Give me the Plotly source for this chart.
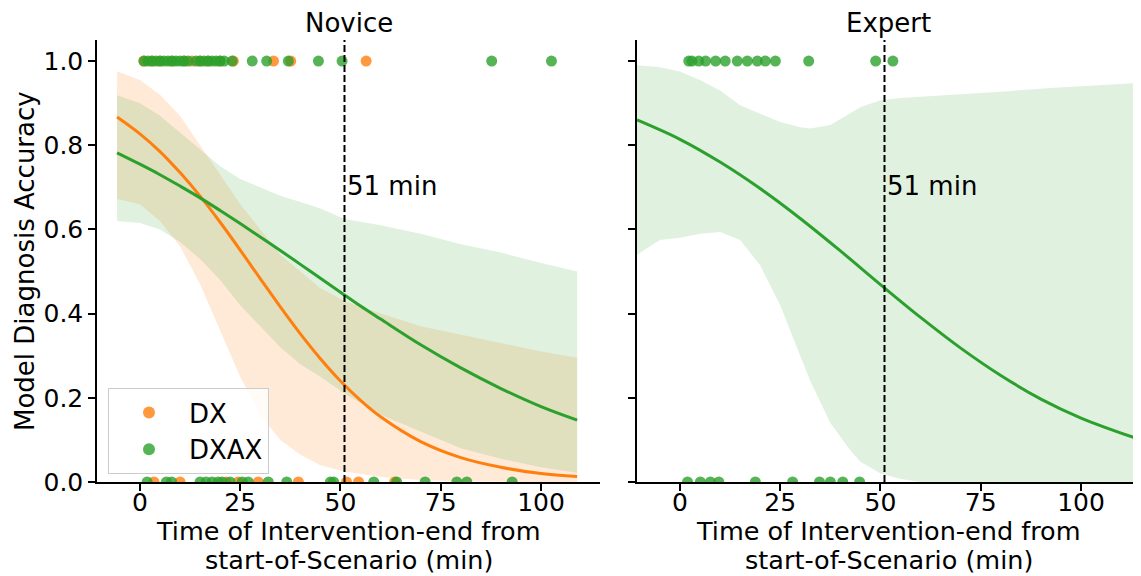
import plotly.graph_objects as go

# ---------------- data ----------------
# Novice scatter (y = 1 / y = 0), minutes
nov_dx_ones = [1, 3, 5, 8, 11, 13, 15, 17, 20, 23.3, 33.3, 37.6, 56.4]
nov_dx_zeros = [3.5, 10, 21.5, 24.5, 29.5, 39.5, 51.5, 54.5, 63.5]
nov_dxax_ones = [1, 2, 3, 4, 5, 6, 7, 8, 9, 10, 11, 12, 14, 15, 16, 17, 18, 19, 20, 21,
                 23, 28, 31.6, 37, 44.5, 50.4, 87.7, 102.6]
nov_dxax_zeros = [1.8, 6.6, 7.9, 15, 16.5, 18, 19.5, 20.5, 22.5, 25.5, 27, 32, 36.6,
                  47.5, 48.3, 58.3, 64, 71.1, 79, 81.5, 92.8]

# Expert scatter
exp_dxax_ones = [2.2, 3.0, 4.7, 6.4, 8.9, 11.3, 14.3, 16.8, 19.3, 21.3, 23.8, 32.1, 48.8, 53.1]
exp_dxax_zeros = [1.9, 5.1, 7.6, 9.7, 18.8, 28.1, 34.8, 37.5, 40.6, 44.8]

# Novice fitted curves
nov_line_x = [-5.7, 0, 5, 10, 15, 20, 25, 30, 35, 40, 45, 50, 55, 60, 70, 80, 90, 100, 109]
nov_dx_fit = [0.867, 0.827, 0.785, 0.735, 0.679, 0.617, 0.551, 0.483, 0.416, 0.352, 0.293,
              0.240, 0.194, 0.155, 0.096, 0.058, 0.035, 0.020, 0.013]
nov_dxax_fit = [0.782, 0.755, 0.730, 0.703, 0.675, 0.645, 0.614, 0.582, 0.550, 0.517, 0.484,
                0.451, 0.418, 0.387, 0.326, 0.271, 0.222, 0.179, 0.147]

# Novice confidence bands
nov_ci_x = [-5.7, 0, 5, 10, 15, 20, 25, 30, 35, 40, 45, 51, 60, 70, 80, 90, 100, 109]
nov_dx_hi = [0.976, 0.955, 0.92, 0.87, 0.80, 0.73, 0.66, 0.60, 0.54, 0.50, 0.46, 0.43, 0.40,
             0.37, 0.35, 0.33, 0.31, 0.295]
nov_dx_lo = [0.672, 0.66, 0.62, 0.56, 0.47, 0.36, 0.25, 0.16, 0.10, 0.065, 0.04, 0.025, 0.012,
             0.005, 0.002, 0.001, 0.0, 0.0]
nov_dxax_hi = [0.919, 0.90, 0.87, 0.83, 0.79, 0.75, 0.72, 0.70, 0.68, 0.665, 0.65, 0.625, 0.61,
               0.59, 0.565, 0.545, 0.52, 0.50]
nov_dxax_lo = [0.62, 0.615, 0.60, 0.57, 0.53, 0.48, 0.42, 0.37, 0.32, 0.28, 0.25, 0.21, 0.16,
               0.12, 0.08, 0.055, 0.035, 0.022]

# Expert fitted curve and band
exp_line_x = [-10.7, 0, 10, 20, 30, 40, 50, 60, 70, 80, 90, 100, 114]
exp_dxax_fit = [0.860, 0.814, 0.760, 0.697, 0.626, 0.549, 0.469, 0.391, 0.318, 0.253, 0.197,
                0.152, 0.103]
exp_ci_x = [-10.7, -5, 0, 5, 10, 15, 20, 25, 30, 32.5, 37.5, 42.5, 45, 50, 55, 60, 67.5, 80,
            92.4, 100, 114]
exp_dxax_hi = [0.99, 0.985, 0.975, 0.955, 0.93, 0.895, 0.875, 0.855, 0.843, 0.84, 0.848, 0.876,
               0.89, 0.907, 0.912, 0.915, 0.919, 0.927, 0.936, 0.94, 0.948]
exp_dxax_lo = [0.54, 0.575, 0.58, 0.59, 0.594, 0.575, 0.515, 0.42, 0.30, 0.24, 0.14, 0.075,
               0.048, 0.02, 0.007, 0.0, 0.0, 0.0, 0.0, 0.0, 0.0]

cutoff_min = 51
x_ticks = [0, 25, 50, 75, 100]
y_ticks = [0.0, 0.2, 0.4, 0.6, 0.8, 1.0]

# ---------------- styling ----------------
ORANGE = "#ff7f0e"
GREEN = "#2ca02c"
ORANGE_FILL = "rgba(255,127,14,0.16)"
GREEN_FILL = "rgba(44,160,44,0.15)"
FONT = "DejaVu Sans"
FS = 26
XL_FS = 25.5
TICK_FS = 25

fig = go.Figure()


def band(xs, lo, hi, color, xa, ya):
    fig.add_trace(go.Scatter(
        x=list(xs) + list(xs)[::-1], y=list(hi) + list(lo)[::-1],
        fill="toself", fillcolor=color, line=dict(width=0), mode="lines",
        hoverinfo="skip", showlegend=False, xaxis=xa, yaxis=ya))


def line(xs, ys, color, xa, ya):
    fig.add_trace(go.Scatter(x=xs, y=ys, mode="lines", line=dict(color=color, width=3, shape="spline"),
                             showlegend=False, xaxis=xa, yaxis=ya))


def pts(xs, yval, color, xa, ya, name=None, legend=False):
    fig.add_trace(go.Scatter(x=xs, y=[yval] * len(xs), mode="markers",
                             marker=dict(color=color, size=11, opacity=0.8, line=dict(width=0)),
                             name=name, showlegend=legend, legendgroup=name, xaxis=xa, yaxis=ya))


# Novice panel
band(nov_ci_x, nov_dx_lo, nov_dx_hi, ORANGE_FILL, "x", "y")
band(nov_ci_x, nov_dxax_lo, nov_dxax_hi, GREEN_FILL, "x", "y")
pts(nov_dx_ones, 1.0, ORANGE, "x", "y", "DX", True)
pts(nov_dx_zeros, 0.0, ORANGE, "x", "y", "DX")
pts(nov_dxax_ones, 1.0, GREEN, "x", "y", "DXAX", True)
pts(nov_dxax_zeros, 0.0, GREEN, "x", "y", "DXAX")
line(nov_line_x, nov_dx_fit, ORANGE, "x", "y")
line(nov_line_x, nov_dxax_fit, GREEN, "x", "y")

# Expert panel
band(exp_ci_x, exp_dxax_lo, exp_dxax_hi, GREEN_FILL, "x2", "y2")
pts(exp_dxax_ones, 1.0, GREEN, "x2", "y2", "DXAX")
pts(exp_dxax_zeros, 0.0, GREEN, "x2", "y2", "DXAX")
line(exp_line_x, exp_dxax_fit, GREEN, "x2", "y2")

# page body has an 8px margin -> shrink the figure and shift margins
OFF = 8
W, H = 1141 - OFF, 576 - OFF
ML, MR, MT, MB = 97 - OFF, 1, 40 - OFF, 94
PW = W - ML - MR
PH = H - MT - MB

axis_common = dict(range=[-10.7, 114.7], tickvals=x_ticks, ticks="outside", ticklen=7, tickwidth=1.5,
                   tickcolor="black", showline=True, linecolor="black", linewidth=1.5,
                   showgrid=False, zeroline=False, ticklabelstandoff=-10,
                   tickfont=dict(family=FONT, size=TICK_FS, color="black"))
yaxis_common = dict(range=[0, 1.05], tickvals=y_ticks, ticks="outside", ticklen=7, tickwidth=1.5,
                    tickcolor="black", showline=True, linecolor="black", linewidth=1.5,
                    showgrid=False, zeroline=False, tickformat=".1f",
                    tickfont=dict(family=FONT, size=TICK_FS, color="black"))

fig.update_layout(
    width=W, height=H,
    margin=dict(l=ML, r=MR, t=MT, b=MB),
    plot_bgcolor="white", paper_bgcolor="white",
    font=dict(family=FONT, size=FS, color="black"),
    xaxis=dict(domain=[0, 503 / PW], anchor="y", **axis_common),
    xaxis2=dict(domain=[540 / PW, 1], anchor="y2", **axis_common),
    yaxis=dict(anchor="x", **yaxis_common),
    yaxis2=dict(anchor="x2", showticklabels=False, **yaxis_common),
    legend=dict(x=11 / PW, y=(482 - 388) / PH, xanchor="left", yanchor="top",
                bgcolor="rgba(255,255,255,0.8)", bordercolor="#cccccc", borderwidth=1,
                font=dict(family=FONT, size=FS), itemsizing="constant", itemwidth=70,
                tracegroupgap=0, entrywidth=100),
    showlegend=True,
)

for xa in ["x", "x2"]:
    fig.add_shape(type="line", xref=xa, yref="y" if xa == "x" else "y2",
                  x0=cutoff_min, x1=cutoff_min, y0=0, y1=1.05,
                  line=dict(color="black", width=2, dash="7px,3px"))
    fig.add_annotation(xref=xa, yref="y" if xa == "x" else "y2", x=cutoff_min, y=0.703,
                       text="51 min", showarrow=False, xanchor="left", yanchor="middle", xshift=1,
                       font=dict(family=FONT, size=FS, color="black"))

left_c = (503 / 2) / PW
right_c = (540 + 503 / 2) / PW
for cx, title in [(left_c, "Novice"), (right_c, "Expert")]:
    fig.add_annotation(xref="paper", yref="paper", x=cx, y=(482 - 23) / PH, text=title,
                       showarrow=False, xanchor="center", yanchor="middle",
                       font=dict(family=FONT, size=FS, color="black"))
    fig.add_annotation(xref="paper", yref="paper", x=cx, y=(482 - 531) / PH,
                       text="Time of Intervention-end from", showarrow=False,
                       xanchor="center", yanchor="middle", font=dict(family=FONT, size=XL_FS, color="black"))
    fig.add_annotation(xref="paper", yref="paper", x=cx, y=(482 - 560) / PH,
                       text="start-of-Scenario (min)", showarrow=False,
                       xanchor="center", yanchor="middle", font=dict(family=FONT, size=XL_FS, color="black"))

fig.add_annotation(xref="paper", yref="paper", x=(25 - 97) / PW, y=0.5, text="Model Diagnosis Accuracy",
                   textangle=-90, showarrow=False, xanchor="center", yanchor="middle",
                   font=dict(family=FONT, size=FS, color="black"))

fig.write_html("out.html")
